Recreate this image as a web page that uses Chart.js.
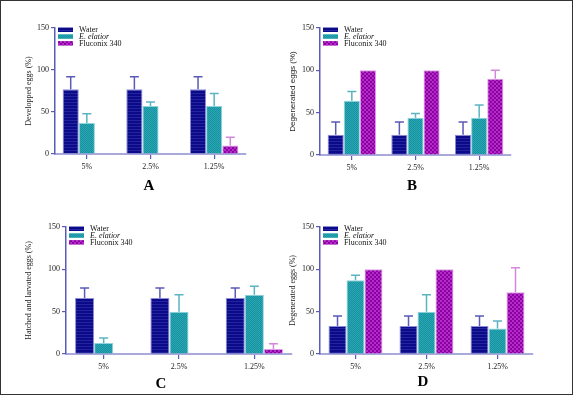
<!DOCTYPE html>
<html>
<head>
<meta charset="utf-8">
<script src="https://cdn.jsdelivr.net/npm/chart.js@4.4.1/dist/chart.umd.min.js"></script>
<style>
  body { margin: 0; background: #fff; }
  #frame { position: relative; width: 573px; height: 395px; box-sizing: border-box; border: 1px solid #333; overflow: hidden; }
  canvas { position: absolute; }
  .letter { position: absolute; font: bold 15px "Liberation Serif", serif; color: #000; transform: translate(-50%, -50%); }
</style>
</head>
<body>
<div id="frame"></div>
<script>
const categories = ['5%', '2.5%', '1.25%'];
const seriesNames = ['Water', 'E. elatior', 'Fluconix 340'];
const yTicks = [0, 50, 100, 150];

// A - developped eggs
const devWater = [77, 77, 77];
const devWaterErr = [15, 15, 15];
const devElatior = [37, 57, 57];
const devElatiorErr = [11, 5, 15];
const devFluco = [0, 0, 10];
const devFlucoErr = [0, 0, 10];

// B - degenerated eggs
const degWater = [24, 24, 24];
const degWaterErr = [15, 15, 15];
const degElatior = [64, 44, 44];
const degElatiorErr = [11, 5, 15];
const degFluco = [100, 100, 90];
const degFlucoErr = [0, 0, 10];

// C - hatched and larvated eggs
const hatchWater = [66, 66, 66];
const hatchWaterErr = [12, 12, 12];
const hatchElatior = [13, 50, 70];
const hatchElatiorErr = [6, 20, 10];
const hatchFluco = [0, 0, 6];
const hatchFlucoErr = [0, 0, 6];

// D - degenerated eggs (second test)
const deg2Water = [33, 33, 33];
const deg2WaterErr = [12, 12, 12];
const deg2Elatior = [87, 50, 30];
const deg2ElatiorErr = [6, 20, 9];
const deg2Fluco = [100, 100, 73];
const deg2FlucoErr = [0, 0, 29];

function makePattern(w, h, draw) {
  const c = document.createElement('canvas');
  c.width = w; c.height = h;
  draw(c.getContext('2d'));
  return c.getContext('2d').createPattern(c, 'repeat');
}
const waterFill = makePattern(4, 3, g => {
  g.fillStyle = '#0b0b8a'; g.fillRect(0, 0, 4, 3);
  g.fillStyle = '#24249e'; g.fillRect(0, 0, 4, 1);
});
const elatiorFill = makePattern(2, 2, g => {
  g.fillStyle = '#16939f'; g.fillRect(0, 0, 2, 2);
  g.fillStyle = '#2aa5b3'; g.fillRect(0, 0, 1, 1); g.fillRect(1, 1, 1, 1);
});
const flucoFill = makePattern(4, 4, g => {
  g.fillStyle = '#8e00a6'; g.fillRect(0, 0, 4, 4);
  g.fillStyle = '#b22cc6'; g.fillRect(0, 0, 2, 2); g.fillRect(2, 2, 2, 2);
});

const fills = [waterFill, elatiorFill, flucoFill];
const borders = ['#8c8cd8', '#8fd4dc', '#e0a0e8'];
const errColors = ['#5a5ab8', '#5cb4c2', '#d488dc'];

const serif = '"Liberation Serif", serif';
const sans = '"Liberation Sans", sans-serif';

const panels = [
  { letter: 'A', lx: 148, ly: 184, left: 55, right: 246, top: 28, bottom: 154, yw: 35, title: 'Developped eggs (%)', titleFamily: serif,
    values: [devWater, devElatior, devFluco], errors: [devWaterErr, devElatiorErr, devFlucoErr] },
  { letter: 'B', lx: 411, ly: 184, left: 320, right: 511, top: 28, bottom: 155, yw: 36, title: 'Degenerated eggs (%)', titleFamily: sans,
    values: [degWater, degElatior, degFluco], errors: [degWaterErr, degElatiorErr, degFlucoErr] },
  { letter: 'C', lx: 160, ly: 382, left: 66, right: 292, top: 227, bottom: 354, yw: 46, title: 'Hatched and larvated eggs (%)', titleFamily: serif,
    values: [hatchWater, hatchElatior, hatchFluco], errors: [hatchWaterErr, hatchElatiorErr, hatchFlucoErr] },
  { letter: 'D', lx: 422, ly: 380, left: 320, right: 533, top: 227, bottom: 354, yw: 36, title: 'Degenerated eggs (%)', titleFamily: serif,
    values: [deg2Water, deg2Elatior, deg2Fluco], errors: [deg2WaterErr, deg2ElatiorErr, deg2FlucoErr] }
];

const errorBars = {
  id: 'errorBars',
  afterDatasetsDraw(chart) {
    const ctx = chart.ctx;
    const y = chart.scales.y;
    chart.data.datasets.forEach((ds, i) => {
      chart.getDatasetMeta(i).data.forEach((bar, j) => {
        const e = ds.errors[j];
        if (!e) return;
        const top = y.getPixelForValue(ds.data[j] + e);
        ctx.save();
        ctx.strokeStyle = ds.errorColor;
        ctx.lineWidth = 1.5;
        ctx.beginPath();
        ctx.moveTo(bar.x, bar.y);
        ctx.lineTo(bar.x, top);
        ctx.moveTo(bar.x - 4.5, top);
        ctx.lineTo(bar.x + 4.5, top);
        ctx.stroke();
        ctx.restore();
      });
    });
  }
};

const boxLegend = {
  id: 'boxLegend',
  afterDraw(chart) {
    const ctx = chart.ctx;
    const a = chart.chartArea;
    chart.data.datasets.forEach((ds, i) => {
      const y = a.top + 1.5 + i * 6.8;
      ctx.save();
      ctx.fillStyle = ds.backgroundColor;
      ctx.fillRect(a.left + 3, y - 2, 15, 4.5);
      ctx.fillStyle = '#111';
      ctx.font = (i === 1 ? 'italic ' : '') + '8px ' + serif;
      ctx.textBaseline = 'middle';
      ctx.fillText(ds.label, a.left + 24, y + 0.5);
      ctx.restore();
    });
  }
};

const P = 7, R = 4, H = 23;
const frame = document.getElementById('frame');

panels.forEach(p => {
  const W = p.yw;
  const cv = document.createElement('canvas');
  cv.width = p.right - p.left + W + R;
  cv.height = p.bottom - p.top + P + H;
  cv.style.left = (p.left - W - 1) + 'px';
  cv.style.top = (p.top - P - 1) + 'px';
  frame.appendChild(cv);

  const letter = document.createElement('div');
  letter.className = 'letter';
  letter.textContent = p.letter;
  letter.style.left = p.lx + 'px';
  letter.style.top = p.ly + 'px';
  frame.appendChild(letter);

  new Chart(cv, {
    type: 'bar',
    data: {
      labels: categories,
      datasets: seriesNames.map((name, i) => ({
        label: name,
        data: p.values[i],
        errors: p.errors[i],
        errorColor: errColors[i],
        backgroundColor: fills[i],
        borderColor: borders[i],
        borderWidth: 1,
        borderSkipped: 'bottom',
        categoryPercentage: 0.76,
        barPercentage: 1
      }))
    },
    options: {
      responsive: false,
      animation: false,
      devicePixelRatio: 1,
      layout: { padding: { top: P, right: R, left: 0, bottom: 0 } },
      plugins: { legend: { display: false }, tooltip: { enabled: false } },
      scales: {
        x: {
          grid: { display: true, drawOnChartArea: false, offset: false, color: '#5a5ab8', tickLength: 5, lineWidth: 1.2 },
          border: { color: '#a9a9dc', width: 2 },
          ticks: { color: '#222', font: { family: serif, size: 8 }, padding: 3 },
          afterFit(s) { s.height = H; }
        },
        y: {
          min: 0, max: 150,
          afterBuildTicks(s) { s.ticks = yTicks.map(v => ({ value: v })); },
          grid: { display: true, drawOnChartArea: false, color: '#5a5ab8', tickLength: 4, lineWidth: 1.2 },
          border: { color: '#5a5ab8', width: 1.5 },
          ticks: { color: '#222', font: { family: serif, size: 8 }, padding: 2 },
          title: { display: true, text: p.title, color: '#222', font: { family: p.titleFamily, size: 8 }, padding: { top: 4, bottom: 2 } },
          afterFit(s) { s.width = W; }
        }
      }
    },
    plugins: [errorBars, boxLegend]
  });
});
</script>
</body>
</html>
